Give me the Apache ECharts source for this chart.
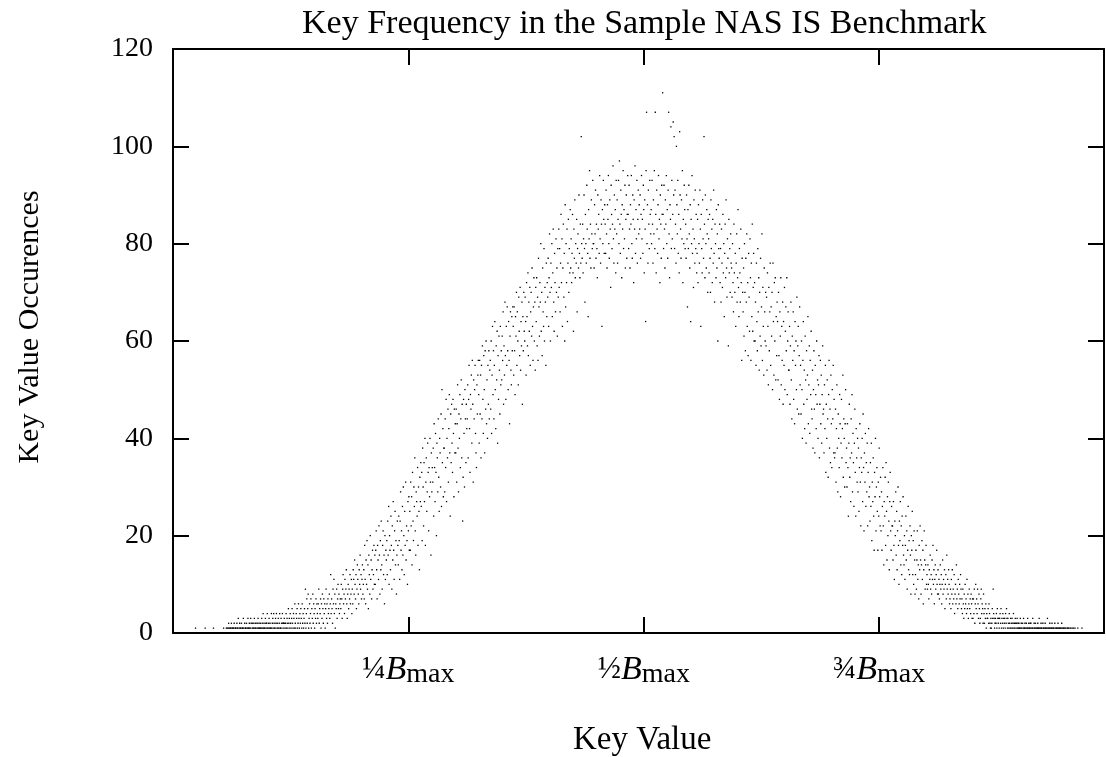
<!DOCTYPE html>
<html><head><meta charset="utf-8">
<script src="https://cdn.jsdelivr.net/npm/echarts@6/dist/echarts.min.js"></script>
<style>html,body{margin:0;padding:0;background:#fff}#c{width:1106px;height:757px}</style>
</head><body><div id="c"></div>
<script>
const chartTitle = 'Key Frequency in the Sample NAS IS Benchmark';
const xAxisTitle = 'Key Value';
const yAxisTitle = 'Key Value Occurences';
const xMax = 2025;
const firstKey = 40;
// occurrences of each key value, starting at key firstKey (one entry per key)
const counts = [
0,0,0,0,0,0,0,0,0,1,0,0,0,0,0,0,0,0,0,0,0,0,0,0,0,
0,0,0,0,0,1,0,0,0,0,0,0,0,0,0,0,0,0,0,0,0,0,0,1,0,
0,0,0,0,0,0,0,0,0,0,0,0,0,0,0,0,0,0,0,0,1,0,0,0,0,
0,1,0,1,0,1,2,1,0,1,1,0,2,1,1,0,1,1,2,0,1,1,1,0,2,
1,1,3,0,1,2,1,1,0,2,1,1,1,3,1,0,2,1,1,1,2,0,1,3,1,
1,2,1,1,3,2,0,1,2,1,1,2,3,1,1,2,1,0,2,1,3,1,2,1,1,
2,1,1,3,2,1,4,1,2,1,1,3,2,1,2,4,1,1,2,3,1,2,1,1,4,
1,2,3,1,4,2,1,1,3,2,4,1,2,1,3,1,2,4,1,1,3,2,1,4,2,
2,1,3,2,1,2,4,1,3,2,1,5,2,3,1,4,2,1,3,5,2,1,4,3,1,
6,2,1,4,3,5,1,2,6,3,1,4,2,5,3,1,6,2,4,1,3,5,2,9,1,
4,7,2,5,8,1,3,6,2,4,7,1,5,3,8,2,6,4,1,5,3,7,2,6,4,
3,6,9,2,5,4,7,1,6,3,8,5,2,7,4,6,1,5,9,3,6,2,7,4,5,
8,3,6,12,4,7,5,2,9,6,11,4,8,1,6,5,9,3,7,10,5,8,4,6,7,
5,10,7,3,9,12,6,8,4,11,7,9,13,6,3,8,10,5,9,7,12,6,8,11,4,
9,6,13,11,8,15,10,7,12,5,9,14,11,8,6,13,10,16,9,12,7,11,14,8,10,
13,7,18,11,6,15,10,19,9,14,5,16,12,8,20,11,15,7,13,17,9,12,18,10,16,
10,17,21,13,7,18,15,11,22,16,8,19,13,23,14,9,18,21,12,16,6,20,11,17,15,
19,12,23,16,26,10,20,17,13,24,18,9,22,15,27,17,11,21,25,14,19,8,16,23,18,
14,24,19,11,23,29,17,21,13,26,16,30,20,12,25,18,31,15,22,19,10,27,21,28,17,
25,17,31,22,28,14,33,23,19,30,26,36,21,16,29,27,24,34,18,30,25,13,32,27,35,
26,33,19,38,30,22,35,27,40,18,31,36,25,29,39,33,21,34,28,40,31,16,37,29,34,
31,38,24,43,34,27,41,33,20,39,36,29,44,32,25,40,37,30,45,26,50,35,42,28,38,
38,29,44,34,48,27,40,36,46,31,42,49,37,24,45,35,47,39,33,48,41,28,46,37,43,
37,46,31,43,51,38,29,45,40,49,34,44,52,36,47,23,32,48,41,30,50,44,35,47,42,
44,51,36,48,55,42,33,49,46,53,39,56,47,31,52,44,50,55,41,37,34,51,45,53,56,
49,39,56,45,53,36,55,44,59,48,41,57,50,37,58,46,60,43,52,40,55,47,58,44,54,
56,46,60,41,53,63,49,58,44,55,64,50,42,59,52,62,39,57,48,61,54,45,63,51,58,
52,61,56,66,47,59,53,68,57,48,63,55,67,58,50,64,56,43,61,66,54,51,65,58,67,
63,53,67,58,49,65,61,70,55,66,60,51,69,62,57,71,54,64,59,68,47,65,58,70,62,
60,69,64,53,72,65,59,74,57,68,62,71,55,66,70,61,75,63,56,67,73,60,68,54,71,
64,73,59,69,56,77,67,61,72,68,80,62,70,57,75,66,63,79,60,71,68,55,76,65,72,
69,77,63,73,82,70,60,76,71,80,65,74,83,68,62,78,72,66,81,70,75,61,79,69,83,
71,79,66,76,86,72,81,63,75,84,69,78,60,88,67,80,72,83,64,76,85,70,79,74,87,
75,81,72,78,86,74,62,83,77,89,73,80,76,85,66,79,82,75,90,78,73,84,76,102,80,
77,84,74,81,90,79,68,86,80,76,92,83,78,65,87,81,95,77,84,75,89,82,79,93,80,
80,75,88,82,91,77,84,79,73,90,83,86,78,94,81,76,89,84,63,87,80,93,85,78,88,
84,78,91,82,75,88,85,94,80,77,89,83,71,92,86,79,84,96,81,76,90,83,87,74,93,
82,89,76,85,93,80,97,84,78,91,86,73,88,83,95,79,87,81,92,75,85,90,77,86,94,
86,79,92,83,75,88,84,94,80,77,90,85,72,89,83,96,78,87,81,93,76,85,91,82,88,
83,90,77,86,94,81,85,78,92,87,74,89,83,64,95,107,80,88,76,91,84,79,93,86,82,
87,80,93,84,76,89,82,95,79,107,86,74,91,83,78,88,94,81,85,72,90,84,77,92,86,
111,86,79,92,83,75,89,84,94,80,87,77,91,107,82,73,88,85,104,79,93,81,86,105,90,
102,79,91,84,76,100,88,82,93,78,86,74,103,90,83,77,89,81,95,72,85,80,92,87,79,
84,77,90,81,67,87,79,92,82,75,88,64,85,80,94,78,83,71,89,81,76,91,79,86,74,
78,85,72,88,80,76,91,83,63,86,79,74,89,81,77,102,84,73,90,80,75,87,82,70,85,
81,74,86,77,70,89,79,83,72,85,76,91,78,68,84,80,73,87,75,82,60,88,79,77,84,
72,79,68,83,76,71,86,74,80,65,78,84,73,89,75,69,81,77,59,85,74,79,70,82,76,
75,69,80,72,66,84,74,70,78,63,76,82,68,73,87,71,65,79,74,68,83,72,56,77,70,
66,75,61,80,70,58,77,68,82,63,72,57,78,69,62,81,73,56,76,65,84,62,71,78,60,
72,60,68,55,76,64,58,79,66,73,54,70,61,77,59,67,82,56,71,63,53,75,66,60,70,
59,69,54,74,63,51,71,58,66,76,55,67,61,70,50,76,64,53,72,60,73,52,65,57,68,
64,52,70,57,48,66,61,73,51,63,56,68,47,64,55,71,50,62,67,58,73,49,60,66,54,
54,63,47,59,68,52,44,61,56,66,48,58,43,64,55,60,50,69,46,59,63,45,57,67,51,
55,45,60,50,40,56,64,47,54,42,61,52,39,58,48,53,65,43,51,59,41,56,49,62,46,
44,54,38,50,58,46,37,55,49,42,60,47,52,40,51,57,36,47,56,43,53,39,49,59,45,
46,37,51,42,55,33,47,40,52,44,32,49,56,38,46,35,53,43,34,50,44,55,37,48,36,
37,46,31,42,51,38,29,45,40,34,49,43,28,39,48,36,42,53,32,44,40,30,43,50,35,
38,30,43,34,24,39,47,32,36,27,44,37,49,29,41,35,26,39,46,33,24,42,36,31,40,
29,38,25,34,43,31,22,36,33,40,27,45,34,21,37,31,41,26,35,29,39,22,33,42,28,
30,23,35,26,39,19,31,27,36,24,17,33,28,40,21,30,34,25,17,31,24,38,28,22,32,
21,29,17,26,34,22,14,27,24,32,18,35,25,15,28,20,31,23,13,27,33,21,17,26,22,
22,15,27,18,11,23,20,29,16,25,13,21,30,18,10,23,19,27,14,22,12,24,18,28,16,
14,20,11,18,24,15,21,9,17,26,13,19,12,22,16,8,20,17,25,12,19,10,21,15,8,
12,17,9,15,21,11,14,7,18,13,22,15,8,14,19,11,17,6,13,21,15,9,14,18,10,
12,9,14,10,7,13,11,16,9,12,8,15,11,18,10,13,6,11,14,9,12,17,10,8,13,
8,11,7,10,14,9,12,6,10,15,8,11,9,13,5,10,12,7,16,9,11,8,13,10,6,
7,9,5,11,8,13,6,9,7,12,4,8,10,6,14,7,9,5,11,8,6,10,7,12,9,
5,7,4,9,6,3,8,5,10,6,7,4,11,5,8,3,6,9,5,7,4,8,6,3,7,
3,7,4,9,2,6,10,5,7,4,9,6,3,8,5,2,3,7,9,4,6,5,2,8,4,
2,5,3,6,1,4,3,3,5,2,6,4,2,1,3,1,2,5,3,9,4,3,1,2,3,
2,4,1,5,3,2,3,1,3,4,2,5,1,3,2,4,1,3,2,3,1,4,2,5,3,
1,3,2,1,4,2,1,3,1,2,3,1,2,4,1,2,1,3,2,1,2,3,1,2,1,
2,1,1,3,1,2,1,0,2,1,3,1,1,2,1,0,2,1,1,3,1,2,1,1,2,
1,2,0,1,1,3,1,0,2,1,1,2,1,0,1,1,2,1,1,3,1,0,1,2,1,
1,0,2,1,1,0,1,2,1,1,0,1,3,1,0,1,1,2,1,0,1,1,2,1,0,
1,1,0,2,1,0,1,1,0,1,2,1,0,1,1,0,1,1,2,0,1,0,1,1,0,
1,0,1,0,0,1,1,0,1,0,0,1,0,1,0,0,1,0,0,1,0,0,1,0,0,
0,0,0,1,0,0,0,0,0,0,0,0,1,0,0,0,0,0,0,0,0,0,0,0,0
];
const xTickValues = [512, 1024, 1536];
const xTickFractions = ['\u00BC', '\u00BD', '\u00BE'];
const yMin = 0, yMax = 120, yStep = 20;

const points = [];
counts.forEach(function (c, i) { if (c > 0) points.push([firstKey + i, c]); });

const serif = "'Liberation Serif', 'DejaVu Serif', serif";
const tickStyle = { show: true, inside: true, length: 16, lineStyle: { color: '#000', width: 2 } };
const lineStyle = { show: true, onZero: false, lineStyle: { color: '#000', width: 2 } };

function xLabel(v) {
  const idx = xTickValues.indexOf(v);
  if (idx < 0) return '';
  return '{f|' + xTickFractions[idx] + '}{b|B}{m|max}';
}

const chart = echarts.init(document.getElementById('c'), null, { renderer: 'canvas' });
chart.setOption({
  animation: false,
  backgroundColor: '#fff',
  title: {
    text: chartTitle, left: 297, top: 2,
    textStyle: { fontFamily: serif, fontSize: 34, fontWeight: 'normal', color: '#000' }
  },
  grid: { left: 173, right: 2, top: 49, bottom: 124, containLabel: false, outerBoundsMode: 'none' },
  graphic: [
    { type: 'text', left: 573, top: 724, silent: true,
      style: { text: xAxisTitle, font: "33px 'Liberation Serif', serif", fill: '#000' } },
    { type: 'text', x: 30, y: 327, rotation: Math.PI / 2, silent: true,
      style: { text: yAxisTitle, font: "30px 'Liberation Serif', serif", fill: '#000', align: 'center', verticalAlign: 'middle' } }
  ],
  xAxis: [{
    type: 'value', min: 0, max: xMax, interval: 512, position: 'bottom',
    axisLine: lineStyle, axisTick: tickStyle, splitLine: { show: false },
    axisLabel: {
      margin: 18, formatter: xLabel, color: '#000', showMinLabel: false, showMaxLabel: false,
      rich: {
        f: { fontFamily: serif, fontSize: 31, color: '#000' },
        b: { fontFamily: serif, fontSize: 34, fontStyle: 'italic', color: '#000' },
        m: { fontFamily: serif, fontSize: 28, color: '#000', padding: [10, 0, 0, 0] }
      }
    }
  }, {
    type: 'value', min: 0, max: xMax, interval: 512, position: 'top',
    axisLine: lineStyle, axisTick: tickStyle, splitLine: { show: false }, axisLabel: { show: false }
  }],
  yAxis: [{
    type: 'value', min: yMin, max: yMax, interval: yStep, position: 'left',
    axisLine: lineStyle, axisTick: tickStyle, splitLine: { show: false },
    axisLabel: { margin: 20, fontFamily: serif, fontSize: 28, color: '#000' }
  }, {
    type: 'value', min: yMin, max: yMax, interval: yStep, position: 'right',
    axisLine: lineStyle, axisTick: tickStyle, splitLine: { show: false }, axisLabel: { show: false }
  }],
  series: [{
    type: 'scatter', xAxisIndex: 0, yAxisIndex: 0, data: points,
    symbol: 'rect', symbolSize: 1.3, silent: true,
    itemStyle: { color: '#000', opacity: 1 }
  }]
});
</script></body></html>
